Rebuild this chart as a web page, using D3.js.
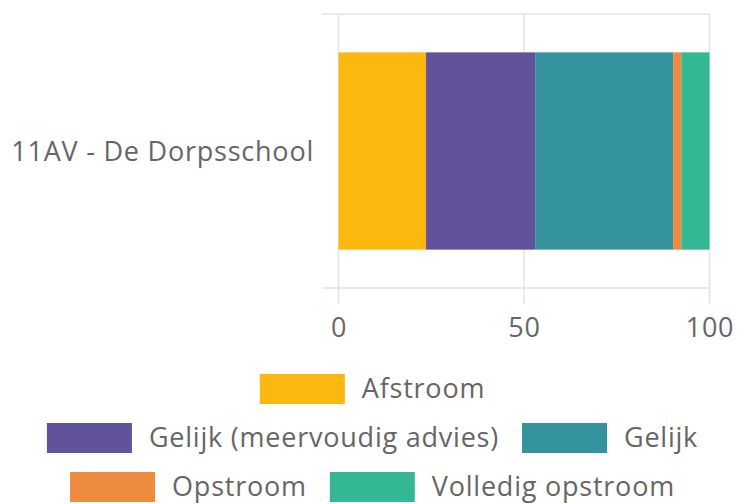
<!DOCTYPE html>
<html>
<head>
<meta charset="utf-8">
<script src="https://cdn.jsdelivr.net/npm/d3@7"></script>
<style>
html,body{margin:0;padding:0;background:#fff;}
svg{display:block;}
text{font-family:"Open Sans",Lato,sans-serif;fill:#666;}
</style>
</head>
<body>
<svg id="chart" width="737" height="504"></svg>
<script>
const categories = ["11AV - De Dorpsschool"];
const seriesNames = ["Afstroom", "Gelijk (meervoudig advies)", "Gelijk", "Opstroom", "Volledig opstroom"];
const seriesValues = [[23.6], [29.4], [37.2], [2.2], [7.6]];
const seriesColors = ["#FBB90F", "#62519B", "#35929F", "#EF8B3E", "#34B894"];
const xTicks = [0, 50, 100];

const svg = d3.select("#chart");
const fontSize = 27;
const fontFam = "'Open Sans',Lato,sans-serif";
const gridColor = "#e3e3e3";

// letter spacing so the category label spans ~302px like the reference
const probe = svg.append("text").attr("font-size", fontSize).style("font-family", fontFam).text(categories[0]);
const natW = probe.node().getComputedTextLength();
probe.remove();
const ls = Math.max(0, (302 - natW) / (categories[0].length - 1));

const x = d3.scaleLinear().domain([0, 100]).range([338.5, 709.5]);
const y = d3.scaleBand().domain(categories).range([14, 288]);
const barFrac = 0.72;

// vertical grid lines (x)
const gx = svg.append("g");
xTicks.forEach(t => {
  gx.append("line")
    .attr("x1", x(t)).attr("x2", x(t))
    .attr("y1", 14).attr("y2", 304)
    .attr("stroke", gridColor).attr("stroke-width", 1.5);
});
// horizontal band boundary lines
[y.range()[0], y.range()[1]].forEach(v => {
  gx.append("line")
    .attr("x1", 322).attr("x2", x(100))
    .attr("y1", v).attr("y2", v)
    .attr("stroke", gridColor).attr("stroke-width", 1.5);
});

// stacked bars
const table = categories.map((c, i) => {
  const o = {cat: c};
  seriesNames.forEach((s, j) => o[s] = seriesValues[j][i]);
  return o;
});
const stack = d3.stack().keys(seriesNames)(table);
const bh = y.bandwidth() * barFrac;
stack.forEach((layer, j) => {
  svg.append("g").selectAll("rect").data(layer).join("rect")
    .attr("x", d => x(d[0]))
    .attr("width", d => x(d[1]) - x(d[0]))
    .attr("y", d => y(d.data.cat) + (y.bandwidth() - bh) / 2)
    .attr("height", bh)
    .attr("fill", seriesColors[j]);
});

const capOff = fontSize * 0.357;

// x tick labels
const xAxis = d3.axisBottom(x).tickValues(xTicks).tickSize(0).tickPadding(0);
const ga = svg.append("g").call(xAxis);
ga.select(".domain").remove();
ga.selectAll("text").attr("font-size", fontSize).attr("fill", "#666")
  .attr("y", 327.5 + capOff).attr("dy", null)
  .style("font-family", fontFam).style("letter-spacing", ls + "px");

// y labels
const yAxis = d3.axisLeft(y).tickSize(0).tickPadding(0);
const gy = svg.append("g").attr("transform", "translate(314,0)").call(yAxis);
gy.select(".domain").remove();
gy.selectAll("text").attr("font-size", fontSize).attr("fill", "#666")
  .attr("dy", null).attr("y", capOff)
  .style("font-family", fontFam).style("letter-spacing", ls + "px");

// legend
const boxW = 85, boxH = 30, gapText = 17, itemGap = 23;
const rows = [[0], [1, 2], [3, 4]];
const rowY = [389, 438, 487];
const legendCenter = 372.5;
const lg = svg.append("g");
rows.forEach((r, ri) => {
  const items = r.map(j => {
    const t = lg.append("text").attr("font-size", fontSize)
      .style("letter-spacing", ls + "px").text(seriesNames[j]);
    const w = t.node().getComputedTextLength();
    return {j, t, w};
  });
  const total = items.reduce((s, it) => s + boxW + gapText + it.w, 0) + itemGap * (items.length - 1);
  let cx = legendCenter - total / 2;
  items.forEach(it => {
    lg.append("rect").attr("x", cx).attr("y", rowY[ri] - boxH / 2).attr("width", boxW).attr("height", boxH)
      .attr("fill", seriesColors[it.j]);
    it.t.attr("x", cx + boxW + gapText).attr("y", rowY[ri] - 1 + capOff);
    cx += boxW + gapText + it.w + itemGap;
  });
});
</script>
</body>
</html>
